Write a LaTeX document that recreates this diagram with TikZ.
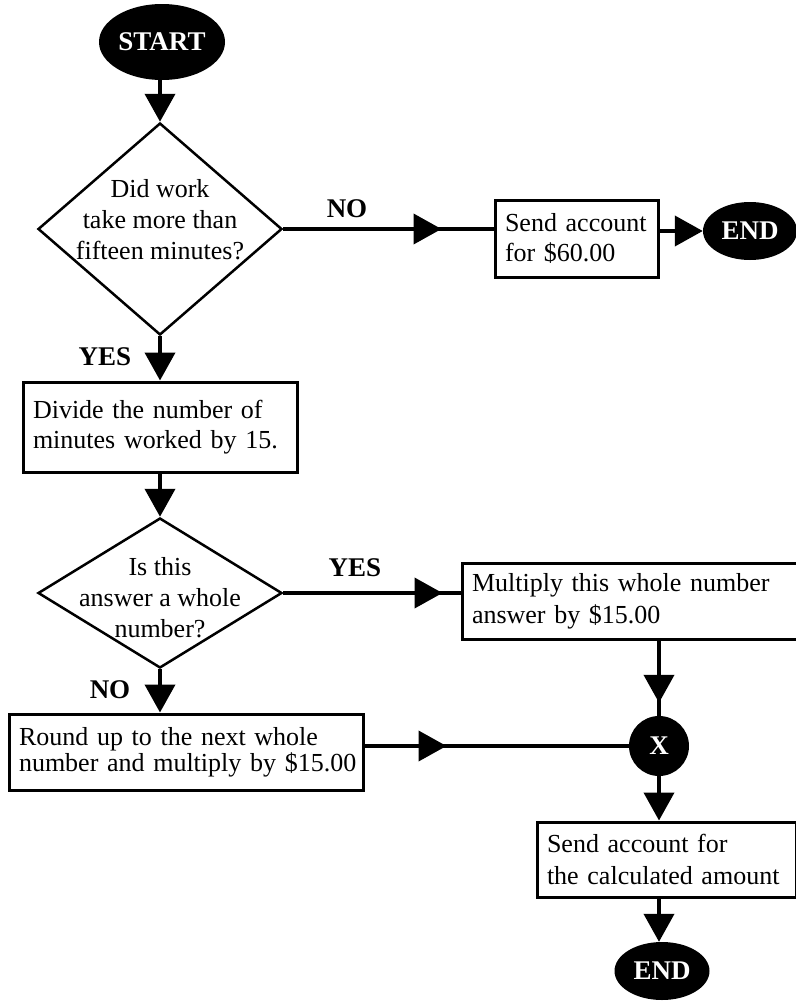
\documentclass[tikz,border=0pt]{standalone}
\usepackage{fontspec}
\setmainfont{Liberation Serif}
\usetikzlibrary{arrows.meta, shapes.geometric, decorations.markings}
\tikzset{bigtri/.tip={Triangle[length=28pt,width=30pt]}}

\begin{document}
\begin{tikzpicture}[x=1pt,y=-1pt,font=\fontsize{26}{30}\selectfont,
	block/.style={rectangle,draw,line width=3pt,align=left,inner xsep=10pt,inner ysep=0pt},
	decision/.style={diamond,draw,line width=2.5pt,inner sep=0pt},
	term node/.style={ellipse,fill=black,text=white,inner sep=0pt,font=\fontsize{27}{30}\selectfont\bfseries},
	tag/.style={font=\fontsize{27}{30}\selectfont\bfseries},
	line/.style={line width=4pt},
	into/.style={-bigtri},
	midtip/.style={postaction={decorate},decoration={markings,mark=at position #1 with {\arrow{bigtri}}}}]
	
	\useasboundingbox (0,0) rectangle (795,1001);
	
	\node[term node,minimum width=126pt,minimum height=76pt] (start) at (162,42) {START};
	\node[decision,minimum width=244pt,minimum height=212pt] (q1) at (160,229) {};
	\node[align=center,font=\fontsize{26}{31}\selectfont] (q1text) at (160,220) {Did work\\take more than\\fifteen minutes?};
	\node[block,text width=143pt,minimum height=77pt] (sendA) at (576.5,238.5) {Send account\\for \$60.00};
	\node[term node,minimum width=94pt,minimum height=58pt] (end1) at (750,231) {END};
	\node[block,text width=254pt,minimum height=90pt] (divide) at (160,427) {Divide the number of\\minutes worked by 15.};
	\node[decision,minimum width=244pt,minimum height=150pt] (q2) at (160,593) {};
	\node[align=center,font=\fontsize{26}{31}\selectfont] (q2text) at (160,598) {Is this\\answer a whole\\number?};
	\node[block,text width=318pt,minimum height=76pt,font=\fontsize{26}{32}\selectfont] (multiply) at (631,601) {Multiply this whole number\\answer by \$15.00};
	\node[block,inner xsep=4pt,text width=346pt,minimum height=76pt,font=\fontsize{26}{26}\selectfont] (round) at (186,752) {\hspace*{6pt}Round up to the next whole\\\hspace*{6pt}number and multiply by \$15.00};
	\node[term node,circle,minimum size=60pt] (x) at (659,746) {X};
	\node[block,text width=239pt,minimum height=75pt,font=\fontsize{26}{32}\selectfont] (sendB) at (666.5,859.5) {Send account for\\the calculated amount};
	\node[term node,minimum width=95pt,minimum height=58pt] (end2) at (662,971) {END};
	
	\node[tag] (no1) at (347,209) {NO};
	\node[tag] (yes1) at (105,357) {YES};
	\node[tag] (yes2) at (355,568) {YES};
	\node[tag] (no2) at (110,690) {NO};
	
	\path[line]
	(q1.north |- start.south) edge[into] (q1.north)
	(q1.east) edge[midtip=-52pt] (q1.east -| sendA.west)
	(sendA.east |- end1) edge[into] (end1.west)
	(q1.south) edge[into] (divide.north)
	(divide.south) edge[into] (q2.north)
	(q2.east) edge[midtip=-18pt] (q2.east -| multiply.west)
	(q2.south) edge[into] (q2.south |- round.north)
	(x |- multiply.south) edge[midtip=-13pt] (x.north)
	(round.east |- x) edge[midtip=82pt] (x.west)
	(x.south) edge[into] (x |- sendB.north)
	(x |- sendB.south) edge[into] (x |- end2.north);
\end{tikzpicture}
\end{document}
